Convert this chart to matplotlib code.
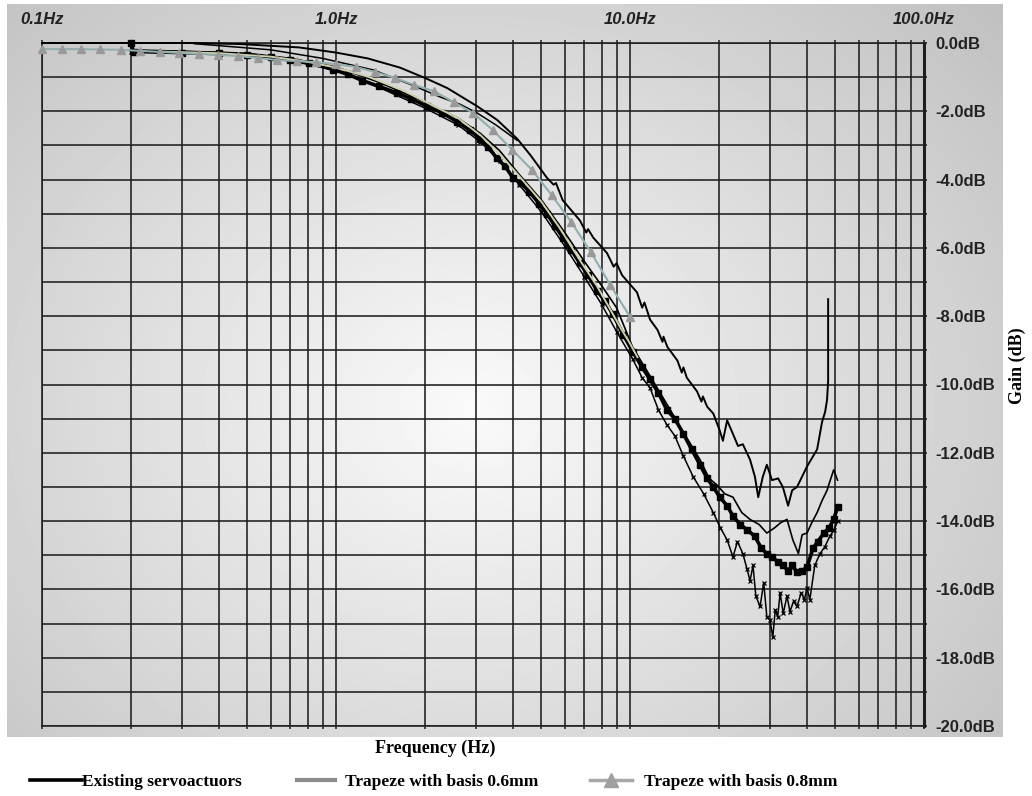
import matplotlib
matplotlib.use("Agg")
import matplotlib.pyplot as plt
from matplotlib.lines import Line2D
from matplotlib.ticker import FixedLocator, NullFormatter
import numpy as np

# ---- data (frequency in Hz, gain in dB) ----
upper_freq = [0.1, 0.32, 0.47, 0.75, 1.0, 1.28, 1.65, 2.04, 2.39, 3.02, 3.53, 4.13, 4.6, 5.22, 5.5,
              5.6, 5.9, 6.76, 7.1, 7.2, 7.5, 8.35, 8.8, 9.0, 9.4, 10.56, 11.0, 11.2, 11.7, 12.4,
              12.9, 13.0, 13.4, 14.5, 15.0, 15.2, 15.6, 16.9, 17.5, 17.7, 18.3, 19.2, 20.2, 20.7, 21.4,
              22.4, 23.3, 24.2, 25.6, 26.6, 27.3, 28.3, 29.2, 30.4, 31.9, 33.1, 34.5, 35.6, 37.0, 40.0,
              43.3, 45.0, 46.1, 46.8, 47.2, 47.2]
upper_db = [0.0, 0.0, -0.03, -0.13, -0.28, -0.45, -0.72, -1.05, -1.32, -1.85, -2.25, -2.8, -3.3, -3.95, -4.15,
            -4.1, -4.6, -5.2, -5.55, -5.45, -5.7, -6.15, -6.55, -6.45, -6.8, -7.3, -7.75, -7.6, -8.1, -8.4,
            -8.75, -8.6, -8.9, -9.3, -9.65, -9.5, -9.8, -10.2, -10.5, -10.35, -10.65, -10.85, -11.35, -11.65, -11.05,
            -11.45, -11.8, -11.75, -12.2, -12.7, -13.3, -12.7, -12.35, -12.8, -12.75, -13.0, -13.55, -13.1, -13.0, -12.4,
            -11.9, -11.1, -10.8, -10.45, -9.9, -7.5]

second_freq = [0.33, 0.6, 0.9, 1.34, 1.8, 2.26, 2.65, 3.02, 3.5, 4.13]
second_db = [-0.02, -0.2, -0.45, -0.79, -1.22, -1.58, -1.8, -2.05, -2.4, -2.85]

existing_freq = [0.2, 0.205, 0.3, 0.4, 0.5, 0.6, 0.7, 0.81, 0.98, 1.1, 1.23, 1.4, 1.61, 1.8, 2.04,
                 2.3, 2.58, 2.85, 3.09, 3.3, 3.53, 3.75, 4.0, 4.25, 4.55, 4.9, 5.22, 5.55, 5.92, 6.3,
                 6.76, 7.2, 7.72, 8.2, 8.75, 9.5, 10.24, 11.0, 11.69, 12.5, 13.36, 14.2, 15.2, 16.2, 17.3,
                 18.3, 19.2, 20.2, 21.4, 22.4, 23.7, 25.0, 26.6, 28.0, 29.2, 30.4, 31.9, 33.1, 34.5, 35.6,
                 37.0, 38.5, 40.0, 41.9, 43.5, 45.7, 47.5, 49.3, 50.8]
existing_db = [0.0, -0.25, -0.28, -0.3, -0.35, -0.42, -0.5, -0.58, -0.78, -0.92, -1.1, -1.27, -1.46, -1.63, -1.85,
               -2.05, -2.3, -2.55, -2.8, -3.05, -3.38, -3.6, -3.95, -4.1, -4.35, -4.7, -5.0, -5.35, -5.7, -6.05,
               -6.45, -6.8, -7.25, -7.55, -7.95, -8.55, -9.05, -9.5, -9.85, -10.25, -10.75, -11.0, -11.45, -11.9, -12.35,
               -12.75, -13.0, -13.3, -13.55, -13.85, -14.1, -14.25, -14.45, -14.8, -14.95, -15.05, -15.2, -15.3, -15.45, -15.3,
               -15.5, -15.45, -15.35, -14.8, -14.6, -14.35, -14.2, -13.95, -13.6]

thin_freq = [0.2, 0.3, 0.5, 0.7, 1.0, 1.4, 2.0, 2.6, 3.1, 3.6, 4.2, 5.0, 6.0, 7.0, 8.0,
             9.0, 10.2, 11.7, 13.4, 15.2, 17.3, 18.6, 19.8, 21.0, 22.4, 24.0, 25.6, 27.5, 29.2, 31.0,
             32.5, 34.2, 35.8, 37.4, 38.5, 40.0, 41.5, 43.3, 45.0, 46.8, 48.0, 49.3, 50.8]
thin_db = [-0.2, -0.24, -0.3, -0.45, -0.7, -1.15, -1.72, -2.2, -2.65, -3.15, -3.85, -4.6, -5.55, -6.4, -7.1,
           -7.75, -8.9, -9.75, -10.6, -11.4, -12.2, -12.75, -12.95, -13.2, -13.3, -13.75, -13.95, -14.1, -14.35, -14.2,
           -14.05, -13.95, -14.55, -14.95, -14.4, -14.35, -14.05, -13.75, -13.4, -13.1, -12.8, -12.5, -12.8]

lowest_freq = [0.2, 0.3, 0.5, 0.7, 1.0, 1.4, 2.0, 2.6, 3.1, 3.6, 4.2, 5.0, 6.0, 7.0, 8.0,
               9.0, 10.2, 11.0, 11.7, 12.5, 13.4, 14.2, 15.2, 16.4, 17.8, 19.2, 20.3, 21.4, 22.4, 23.2,
               24.2, 25.0, 25.6, 26.2, 26.8, 27.7, 28.5, 29.2, 29.9, 30.6, 31.2, 31.8, 32.4, 33.2, 34.2,
               35.0, 36.0, 37.0, 38.2, 39.2, 40.0, 40.9, 42.5, 44.3, 46.0, 47.8, 49.5, 50.8]
lowest_db = [-0.25, -0.3, -0.38, -0.52, -0.8, -1.3, -1.9, -2.4, -2.9, -3.45, -4.15, -4.95, -5.95, -6.85, -7.65,
             -8.45, -9.25, -9.8, -10.1, -10.75, -11.2, -11.5, -12.1, -12.7, -13.2, -13.75, -14.2, -14.55, -15.05, -14.6,
             -14.95, -15.4, -15.75, -15.3, -16.2, -16.5, -15.8, -16.8, -16.9, -17.4, -16.6, -16.8, -16.1, -16.7, -16.2,
             -16.65, -16.35, -16.5, -16.1, -16.3, -15.95, -16.3, -15.3, -14.95, -14.75, -14.45, -14.25, -14.0]

trap06_freq = [0.25, 0.4, 0.6, 0.8, 1.0, 1.3, 1.7, 2.1, 2.6, 3.1, 3.6, 4.2, 5.0, 5.8, 6.8,
               7.7, 8.5, 9.3, 10.0, 10.6]
trap06_db = [-0.25, -0.3, -0.4, -0.55, -0.72, -1.0, -1.4, -1.8, -2.2, -2.7, -3.25, -3.9, -4.65, -5.45, -6.4,
             -7.1, -7.75, -8.35, -8.8, -9.2]

trap08_freq = [0.1, 0.117, 0.136, 0.158, 0.185, 0.215, 0.251, 0.293, 0.341, 0.398,
               0.464, 0.541, 0.631, 0.736, 0.858, 1.0, 1.166, 1.359, 1.585, 1.848,
               2.154, 2.512, 2.929, 3.415, 3.981, 4.642, 5.412, 6.31, 7.356, 8.577, 10.0]
trap08_db = [-0.18, -0.18, -0.18, -0.19, -0.2, -0.23, -0.26, -0.29, -0.32, -0.35,
             -0.38, -0.44, -0.5, -0.53, -0.56, -0.62, -0.7, -0.85, -1.02, -1.23,
             -1.41, -1.73, -2.05, -2.55, -3.13, -3.72, -4.45, -5.24, -6.12, -7.09, -8.02]

x_ticks = [0.1, 1.0, 10.0, 100.0]
x_tick_labels = ["0.1Hz", "1.0Hz", "10.0Hz", "100.0Hz"]
y_ticks = [0, -2, -4, -6, -8, -10, -12, -14, -16, -18, -20]
y_tick_labels = ["0.0dB", "-2.0dB", "-4.0dB", "-6.0dB", "-8.0dB", "-10.0dB",
                 "-12.0dB", "-14.0dB", "-16.0dB", "-18.0dB", "-20.0dB"]
y_minor = [-1, -3, -5, -7, -9, -11, -13, -15, -17, -19]

legend_labels = ["Existing servoactuors", "Trapeze with basis 0.6mm", "Trapeze with basis 0.8mm"]

W, H = 1032, 796
GRID = "#1e1e1e"
SERIF = "Liberation Serif"
SANS = "Liberation Sans"

fig = plt.figure(figsize=(W / 100, H / 100), dpi=100)

# grey gradient panel behind the chart
bg = fig.add_axes([0, 0, 1, 1], zorder=-1)
bg.set_xlim(0, W)
bg.set_ylim(H, 0)
bg.axis("off")
yy, xx = np.mgrid[4:737, 7:1003]
r = np.sqrt(((xx - 470) / 470.0) ** 2 + ((yy - 410) / 400.0) ** 2)
shade = np.clip(0.98 - 0.15 * r, 0, 1)
bg.imshow(shade, cmap="gray", vmin=0, vmax=1, extent=(7, 1003, 737, 4),
          aspect="auto", interpolation="bilinear")

ax = fig.add_axes([42 / W, 1 - 726 / H, (924 - 42) / W, (726 - 43) / H])
ax.set_facecolor("none")
ax.set_xscale("log")
ax.set_xlim(0.1, 100)
ax.set_ylim(-20, 0)

ax.xaxis.set_major_locator(FixedLocator(x_ticks))
ax.set_xticks(x_ticks)
ax.set_xticklabels(x_tick_labels)
ax.xaxis.set_minor_formatter(NullFormatter())
ax.set_yticks(y_ticks)
ax.set_yticklabels(y_tick_labels)
ax.yaxis.set_minor_locator(FixedLocator(y_minor))

ax.xaxis.tick_top()
ax.yaxis.tick_right()
ax.tick_params(axis="x", which="both", direction="out", length=2.5, width=1.1, color=GRID,
               top=True, bottom=True, labeltop=True, labelbottom=False, pad=9)
ax.tick_params(axis="y", which="both", direction="out", length=2.5, width=1.1, color=GRID,
               left=False, right=True, labelright=True, labelleft=False, pad=6)
for lbl in ax.get_xticklabels():
    lbl.set_fontfamily(SANS)
    lbl.set_fontweight("bold")
    lbl.set_fontstyle("italic")
    lbl.set_fontsize(12)
    lbl.set_color("#222222")
for lbl in ax.get_yticklabels():
    lbl.set_fontfamily(SANS)
    lbl.set_fontweight("bold")
    lbl.set_fontsize(12)
    lbl.set_horizontalalignment("left")
    lbl.set_color("#222222")

ax.set_axisbelow(True)
ax.grid(True, which="both", color=GRID, linewidth=1.15)
for side, sp in ax.spines.items():
    sp.set_color(GRID)
    sp.set_linewidth(2.2 if side == "right" else 1.15)

# curves
ax.plot(upper_freq, upper_db, color="black", lw=1.4, clip_on=False, zorder=3)
ax.plot(second_freq, second_db, color="black", lw=1.1, clip_on=False, zorder=3)
ax.plot(lowest_freq, lowest_db, color="black", lw=1.1, marker="x", ms=3.5, mew=0.9,
        clip_on=False, zorder=3)
ax.plot(thin_freq, thin_db, color="black", lw=1.2, clip_on=False, zorder=3)
ax.plot(existing_freq, existing_db, color="black", lw=2.6, marker="s", ms=4.2,
        clip_on=False, zorder=4)
ax.plot(trap06_freq, trap06_db, color="#cfcfa8", lw=1.4, clip_on=False, zorder=5)
ax.plot(trap08_freq, trap08_db, color="#8fb0b0", lw=1.5, marker="^", ms=6,
        mfc="#999999", mec="#999999", clip_on=False, zorder=6)

fig.text(435 / W, 1 - 748 / H, "Frequency (Hz)", family=SERIF, weight="bold",
         size=13, ha="center", va="center")
fig.text(1017 / W, 1 - 366 / H, "Gain (dB)", family=SERIF, weight="bold",
         size=13, ha="center", va="center", rotation=90)

# legend, one entry per block so the spacing follows the reference
handles = [
    Line2D([], [], color="black", lw=2.6),
    Line2D([], [], color="#8c8c8c", lw=3.0),
    Line2D([], [], color="#a8a8a8", lw=2.5, marker="^", ms=10, mfc="#a0a0a0", mec="#a0a0a0"),
]
legend_x = [30, 297, 590]
legend_hlen = [3.0, 2.2, 2.4]
legend_pad = [0.0, 0.55, 0.7]
for h, lab, x0, hl, tp in zip(handles, legend_labels, legend_x, legend_hlen, legend_pad):
    fig.legend([h], [lab], loc="center left", bbox_to_anchor=(x0 / W, 1 - 782 / H),
               frameon=False, borderpad=0, borderaxespad=0, handlelength=hl,
               handletextpad=tp, prop={"family": SERIF, "weight": "bold", "size": 12.5})

fig.savefig("out.png", dpi=100)
